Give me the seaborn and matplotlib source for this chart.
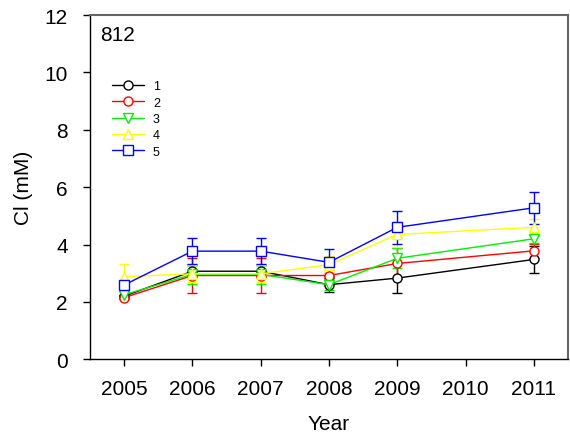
import matplotlib
matplotlib.use("Agg")
import matplotlib.pyplot as plt
import seaborn as sns
import pandas as pd
from matplotlib.lines import Line2D

years = [2005, 2006, 2007, 2008, 2009, 2011]
labels = ["1", "2", "3", "4", "5"]
s1 = [2.20, 3.07, 3.07, 2.60, 2.83, 3.48]
e1 = [0.05, 0.20, 0.20, 0.25, 0.53, 0.46]
s2 = [2.15, 2.92, 2.92, 2.92, 3.34, 3.78]
e2 = [0.05, 0.60, 0.60, 0.10, 0.53, 0.25]
s3 = [2.25, 2.96, 2.96, 2.60, 3.52, 4.20]
e3 = [0.10, 0.33, 0.33, 0.20, 0.35, 0.15]
s4 = [2.88, 2.98, 2.98, 3.30, 4.35, 4.60]
e4 = [0.45, 0.30, 0.30, 0.30, 0.45, 0.30]
s5 = [2.59, 3.77, 3.77, 3.38, 4.60, 5.28]
e5 = [0.10, 0.45, 0.45, 0.48, 0.57, 0.56]
xticks = [2005, 2006, 2007, 2008, 2009, 2010, 2011]
yticks = [0, 2, 4, 6, 8, 10, 12]

sns.set_style("white")
plt.rcParams['font.family'] = ['Liberation Sans', 'DejaVu Sans']
plt.rcParams['text.color'] = 'black'
plt.rcParams['axes.labelcolor'] = 'black'

series = [s1, s2, s3, s4, s5]
errs = [e1, e2, e3, e4, e5]
colors = ["black", "red", "#00ee00", "#ffff00", "blue"]
markers = ["o", "o", "v", "^", "s"]

rows = []
for lab, s in zip(labels, series):
    for y, v in zip(years, s):
        rows.append({"Year": y, "Cl": v, "series": lab})
df = pd.DataFrame(rows)

fig = plt.figure(figsize=(5.7, 4.39), dpi=100)
ax = fig.add_axes([90/570, 1-360.3/439, (568-90)/570, (360.3-16)/439])

for i, (lab, s, e, c, m) in enumerate(zip(labels, series, errs, colors, markers)):
    ax.errorbar(years, s, yerr=e, fmt="none", ecolor=c, elinewidth=1.0,
                capsize=3.5, capthick=1.0, zorder=2 + i * 0.1)
for i, (lab, c, m) in enumerate(zip(labels, colors, markers)):
    sub = df[df["series"] == lab]
    sns.lineplot(data=sub, x="Year", y="Cl", ax=ax, color=c, marker=m,
                 markersize=6.5, markerfacecolor="white", markeredgecolor=c,
                 markeredgewidth=1.0, linewidth=1.0, zorder=3 + i * 0.1,
                 legend=False)

ax.set_xlim(2004.5, 2011.5)
ax.set_ylim(0, 12)
ax.set_xticks(xticks)
ax.set_xticklabels([str(x) for x in xticks])
ax.set_yticks(yticks)
ax.tick_params(axis="both", which="major", labelsize=15, direction="out",
               length=5, width=1, colors="black", bottom=True, left=True,
               top=False, right=False)
ax.tick_params(axis="x", pad=9)
ax.tick_params(axis="y", pad=11)
ax.set_xlabel("Year", fontsize=15, labelpad=12)
ax.set_ylabel("Cl (mM)", fontsize=15, labelpad=8)

for side in ["left", "bottom"]:
    ax.spines[side].set_color("black")
    ax.spines[side].set_linewidth(1.0)
for side in ["top", "right"]:
    ax.spines[side].set_color("#666666")
    ax.spines[side].set_linewidth(1.5)

ax.text(0.022, 0.97, "812", transform=ax.transAxes, fontsize=15,
        ha="left", va="top")

handles = [Line2D([0], [0], color=c, marker=m, markersize=6.5,
                  markerfacecolor="white", markeredgecolor=c, linewidth=1.0)
           for c, m in zip(colors, markers)]
ax.legend(handles, labels, loc="upper left", bbox_to_anchor=(0.035, 0.825),
          frameon=False, fontsize=9, handlelength=2.6, labelspacing=0.35,
          handletextpad=0.7, borderaxespad=0)

fig.savefig("out.png", dpi=100)
